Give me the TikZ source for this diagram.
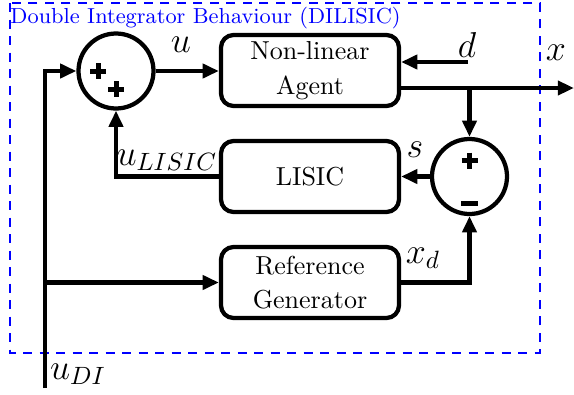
\documentclass[tikz,border=0pt]{standalone}
\usetikzlibrary{arrows.meta,calc}
\begin{document}
\begin{tikzpicture}[x=0.4pt,y=-0.4pt,
  every node/.style={font=\fontsize{10.4}{12.8}\selectfont},
  blk/.style={draw,line width=1.7pt,rounded corners=5pt,minimum width=71.2pt,minimum height=28.4pt,align=center,inner sep=0pt},
  sumnode/.style={draw,circle,line width=1.7pt,minimum size=30pt,inner sep=0pt},
  wire/.style={line width=1.7pt},
  arr/.style={line width=1.7pt,-{Triangle[length=6.5pt,width=5.6pt]}},
  sgn/.style={line width=2pt},
  lbl/.style={font=\fontsize{14.4}{17}\selectfont,inner sep=0pt},
  frame/.style={draw=blue,line width=0.8pt,dash pattern=on 3.6pt off 3pt}
]
\useasboundingbox (0,0) rectangle (574,394);
% frame
\draw[frame] (10,3) rectangle (540,353);
\node[anchor=west,text=blue,inner sep=0pt,font=\fontsize{8.7}{10}\selectfont] (title) at (10,18) {Double Integrator Behaviour (DILISIC)};
% blocks
\node[blk] (agent) at (310,70.5) {Non-linear\\[1pt]Agent};
\node[blk] (lisic) at (310,176.5) {LISIC};
\node[blk] (ref) at (310,282.5) {Reference\\[1pt]Generator};
\node[sumnode] (sum1) at (116,71) {};
\node[sumnode] (sum2) at (469.5,176.5) {};
% signs
\draw[sgn] ($(sum1.center)+(-26,0)$) -- ++(16,0) ($(sum1.center)+(-18,-8)$) -- ++(0,16);
\draw[sgn] ($(sum1.center)+(-8,18)$) -- ++(16,0) ($(sum1.center)+(0,10)$) -- ++(0,16);
\draw[sgn] ($(sum2.center)+(-8,-16)$) -- ++(16,0) ($(sum2.center)+(0,-24)$) -- ++(0,16);
\draw[line width=2pt] ($(sum2.center)+(-8.5,26.5)$) -- ++(17,0);
% coordinates
\coordinate (in) at (45,388);
\coordinate (j1) at (45,282.5);
\coordinate (dstart) at (468,62);
\coordinate (xout) at (574,88);
\coordinate (br) at (469.5,88);
% connectors
\draw[arr] (in) |- (sum1.west);
\draw[arr] (j1) -- (ref.west);
\draw[arr] (sum1.east) -- (sum1.east -| agent.west);
\draw[arr] (dstart) -- (dstart -| agent.east);
\draw[arr] (agent.east |- xout) -- (xout);
\draw[arr] (br) -- (sum2.north);
\draw[arr] (sum2.west) -- (lisic.east);
\draw[arr] (lisic.west) -| (sum1.south);
\draw[arr] (ref.east) -| (sum2.south);
% labels
\node[lbl] (lu) at (181,45) {$u$};
\node[lbl] (ld) at (467,45) {$d$};
\node[lbl] (lx) at (556,53) {$x$};
\node[lbl] (ls) at (415,150) {$s$};
\node[lbl] (lul) at (167,160) {$u_{LISIC}$};
\node[lbl] (lxd) at (423,258) {$x_d$};
\node[lbl] (ludi) at (78,374) {$u_{DI}$};
\end{tikzpicture}
\end{document}
